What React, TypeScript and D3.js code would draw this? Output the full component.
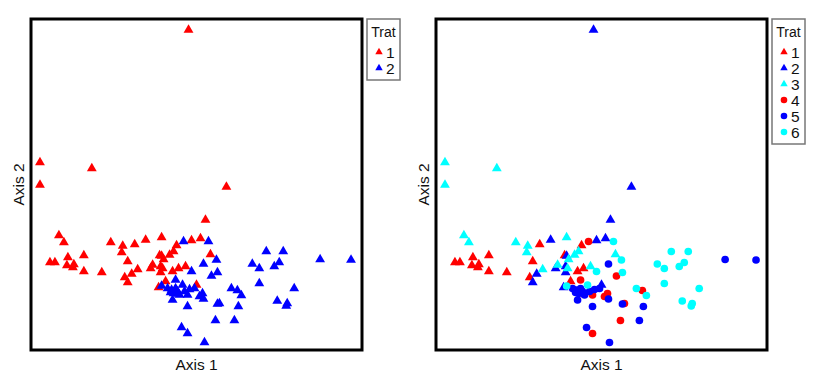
import React from 'react';
import * as d3 from 'd3';

// Ordination scores (Axis 1, Axis 2) per treatment
const trt1: [number, number][] = [
  [-1.47, -0.78], [-1.42, -0.78], [-1.29, -0.73], [-1.30, -0.81], [-1.23, -0.80],
  [-1.24, -0.83], [-1.13, -0.71], [-1.13, -0.87], [-0.95, -0.88], [-0.62, -0.60],
  [-0.69, -0.77], [-0.72, -0.93], [-0.37, -0.71], [-0.20, -0.61], [-0.24, -0.87],
  [-0.18, -0.84], [-0.31, -0.97],
];
const trt2: [number, number][] = [
  [-0.08, 1.545], [0.30, -0.025], [0.09, -0.355], [-0.51, -0.555], [-0.05, -0.56],
  [0.04, -0.54], [-0.35, -0.715], [-0.46, -0.84], [-0.36, -0.82], [-0.36, -0.88],
  [-0.65, -0.895], [-0.69, -0.98], [-0.38, -1.03], [0.0, -1.005],
];
const trt3: [number, number][] = [
  [-1.57, 0.22], [-1.05, 0.16], [-1.57, -0.005], [-1.38, -0.51], [-1.33, -0.58],
  [-0.86, -0.58], [-0.74, -0.615], [-0.75, -0.68], [-0.35, -0.53], [-0.23, -0.67],
  [-0.27, -0.705], [-0.33, -0.75], [0.14, -0.70], [-0.44, -0.805], [-0.34, -0.84],
  [-0.11, -0.82], [-0.59, -0.85],
];
const trt4: [number, number][] = [
  [-0.13, -0.57], [0.15, -0.915], [-0.21, -0.955], [-0.09, -1.105], [0.06, -1.09],
  [0.03, -1.12], [0.23, -1.19], [0.41, -1.06], [0.19, -1.36], [-0.09, -1.49],
  [-0.18, -1.095],
];
const trt5: [number, number][] = [
  [0.07, -0.795], [-0.29, -1.04], [-0.25, -1.055], [-0.21, -1.04], [-0.19, -1.07],
  [-0.23, -1.09], [-0.26, -1.08], [-0.17, -1.105], [-0.12, -1.07], [-0.07, -1.05],
  [-0.02, -1.04], [0.07, -1.145], [-0.24, -1.155], [-0.09, -1.22], [0.21, -1.195],
  [0.42, -1.22], [1.24, -0.75], [1.55, -0.755], [0.38, -1.36], [-0.15, -1.43],
  [0.08, -1.58],
];
const trt6: [number, number][] = [
  [0.12, -0.57], [0.20, -0.755], [-0.05, -0.87], [0.21, -0.88], [-0.35, -1.015],
  [-0.14, -1.005], [0.35, -1.04], [0.45, -1.11], [0.70, -0.67], [0.87, -0.67],
  [0.56, -0.795], [0.63, -0.84], [0.78, -0.82], [0.83, -0.78], [0.63, -0.99],
  [0.98, -1.04], [0.81, -1.165], [0.91, -1.19], [0.90, -1.215],
];

const treatments = ['1', '2', '3', '4', '5', '6'];
const seriesData = [trt1, trt2, trt3, trt4, trt5, trt6];
const treatmentShapes = ['triangle', 'triangle', 'triangle', 'circle', 'circle', 'circle'];
const treatmentColors = ['#ff0000', '#0000ff', '#00ffff', '#ff0000', '#0000ff', '#00ffff'];

// left panel: two groups (triangle treatments vs circle treatments)
const groups = ['1', '2'];
const groupColors = ['#ff0000', '#0000ff'];

const xDomain: [number, number] = [-1.66, 1.66];
const yDomain: [number, number] = [-1.655, 1.655];

const W = 817;
const H = 388;
const panelTop = 19;
const panelSize = 331;
const font = '"Liberation Sans", Arial, sans-serif';

const tri = d3.symbol().type(d3.symbolTriangle).size(42)() as string;
const circ = d3.symbol().type(d3.symbolCircle).size(46)() as string;
const triSmall = d3.symbol().type(d3.symbolTriangle).size(24)() as string;
const circSmall = d3.symbol().type(d3.symbolCircle).size(34)() as string;

type Pt = { x: number; y: number; color: string; shape: string; g?: number };

const Panel = ({ left, points, labels, colors, shapes }: {
  left: number; points: Pt[]; labels: string[]; colors: string[]; shapes: string[];
}) => {
  const x = d3.scaleLinear().domain(xDomain).range([left, left + panelSize]);
  const y = d3.scaleLinear().domain(yDomain).range([panelTop + panelSize, panelTop]);
  const legX = left + panelSize + 5;
  const legH = 26 + labels.length * 16 + 3;
  return (
    <g>
      {points.map((p, i) => (
        <path key={i} d={p.shape === 'triangle' ? tri : circ}
          transform={`translate(${x(p.x)},${y(p.y)})`} fill={p.color} />
      ))}
      <rect x={left} y={panelTop} width={panelSize} height={panelSize}
        fill="none" stroke="#000" strokeWidth={3} />
      <text x={left + panelSize / 2} y={panelTop + panelSize + 20} textAnchor="middle"
        fontFamily={font} fontSize={15.5} fill="#111">Axis 1</text>
      <text transform={`translate(${left - 7},${panelTop + panelSize / 2}) rotate(-90)`}
        textAnchor="middle" fontFamily={font} fontSize={15.5} fill="#111">Axis 2</text>
      <rect x={legX} y={panelTop} width={33} height={legH} fill="#fff"
        stroke="#777" strokeWidth={1.5} />
      <text x={legX + 16.5} y={panelTop + 18} textAnchor="middle"
        fontFamily={font} fontSize={14} fill="#111">Trat</text>
      {labels.map((l, i) => (
        <g key={l} transform={`translate(${legX + 12},${panelTop + 33 + i * 16})`}>
          <path d={shapes[i] === 'triangle' ? triSmall : circSmall} fill={colors[i]} />
          <text x={7} y={5.5} fontFamily={font} fontSize={15.5} fill="#111">{l}</text>
        </g>
      ))}
    </g>
  );
};

export default function App() {
  const leftPoints: Pt[] = [];
  const rightPoints: Pt[] = [];
  seriesData.forEach((s, i) => {
    s.forEach(([a, b]) => {
      const g = treatmentShapes[i] === 'triangle' ? 0 : 1;
      leftPoints.push({ x: a, y: b, color: groupColors[g], shape: 'triangle', g });
      rightPoints.push({ x: a, y: b, color: treatmentColors[i], shape: treatmentShapes[i] });
    });
  });
  leftPoints.sort((p, q) => (p.g ?? 0) - (q.g ?? 0));

  return (
    <svg width={W} height={H} style={{ position: 'absolute', left: 0, top: 0, background: '#fff' }}>
      <rect width={W} height={H} fill="#fff" />
      <Panel left={31} points={leftPoints} labels={groups} colors={groupColors}
        shapes={['triangle', 'triangle']} />
      <Panel left={436} points={rightPoints} labels={treatments} colors={treatmentColors}
        shapes={treatmentShapes} />
    </svg>
  );
}
